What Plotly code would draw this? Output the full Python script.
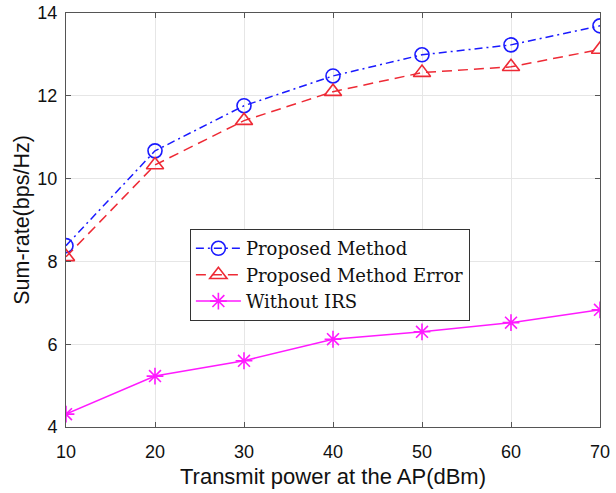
import plotly.graph_objects as go

power_dbm = [10, 20, 30, 40, 50, 60, 70]
proposed = [8.38, 10.67, 11.76, 12.48, 12.99, 13.23, 13.69]
proposed_error = [8.11, 10.33, 11.40, 12.10, 12.56, 12.70, 13.12]
without_irs = [4.31, 5.23, 5.60, 6.12, 6.30, 6.52, 6.83]

x_ticks = [10, 20, 30, 40, 50, 60, 70]
y_ticks = [4, 6, 8, 10, 12, 14]

fig = go.Figure()
fig.add_trace(go.Scatter(
    x=power_dbm, y=proposed, name="Proposed Method", mode="lines+markers",
    line=dict(color="#1a1aff", width=1.5, dash="8px,4px,2px,4px"),
    marker=dict(symbol="circle-open", size=14, color="#1a1aff", line=dict(width=1.6, color="#1a1aff")),
))
fig.add_trace(go.Scatter(
    x=power_dbm, y=proposed_error, name="Proposed Method Error", mode="lines+markers",
    line=dict(color="#ee2a35", width=1.5, dash="10px,6px"),
    marker=dict(symbol="triangle-up-open", size=15, color="#ee2a35", line=dict(width=1.6, color="#ee2a35")),
))
fig.add_trace(go.Scatter(
    x=power_dbm, y=without_irs, name="Without IRS", mode="lines+markers",
    line=dict(color="#ff1aff", width=1.5),
    marker=dict(symbol="asterisk", size=14, color="#ff1aff", line=dict(width=1.6, color="#ff1aff")),
))

axis_common = dict(
    showline=True, linecolor="#555555", linewidth=1, mirror="allticks",
    ticks="inside", ticklen=5, tickcolor="#555555",
    showgrid=True, gridcolor="#e6e6e6", gridwidth=1, zeroline=False,
    tickfont=dict(family="Liberation Sans", size=18, color="#111111"),
    automargin=False,
)

fig.update_xaxes(range=[10, 70], tickvals=x_ticks, ticklabelstandoff=8,
                 title=dict(text="Transmit power at the AP(dBm)", standoff=8,
                            font=dict(family="Liberation Sans", size=22, color="#111111")),
                 **axis_common)
fig.update_yaxes(range=[4, 14], tickvals=y_ticks, ticklabelstandoff=4,
                 title=dict(text="Sum-rate(bps/Hz)", standoff=1,
                            font=dict(family="Liberation Sans", size=21.5, color="#111111")),
                 **axis_common)

fig.update_layout(
    width=616, height=493,
    margin=dict(l=66, r=16, t=13, b=66),
    paper_bgcolor="white", plot_bgcolor="white",
    showlegend=True,
    legend=dict(
        x=0.232, y=0.478, xanchor="left", yanchor="top",
        bgcolor="white", bordercolor="#333333", borderwidth=1,
        font=dict(family="DejaVu Serif", size=18, color="#111111"),
        itemwidth=45, tracegroupgap=0,
    ),
)

fig.write_html("out.html", config={"displayModeBar": False},
               post_script="document.body.style.margin='0';document.body.style.overflow='hidden';")
